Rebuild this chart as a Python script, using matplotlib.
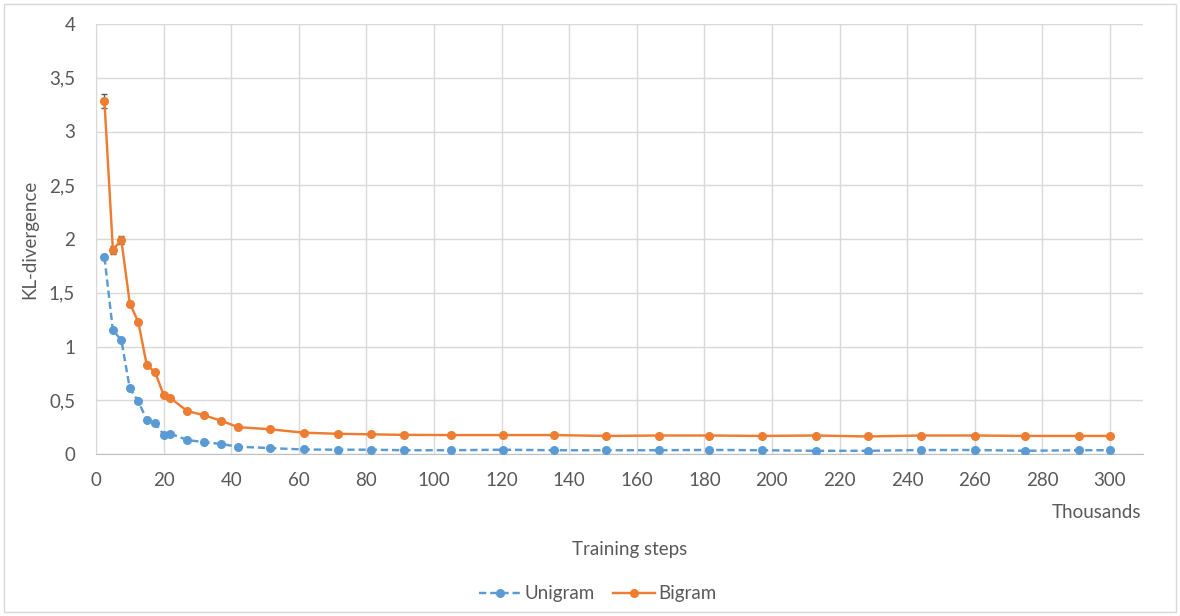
import numpy as np
import matplotlib
matplotlib.use("Agg")
import matplotlib.pyplot as plt
from matplotlib.patches import Rectangle
from matplotlib.ticker import FuncFormatter

plt.rcParams['font.family'] = ['Lato', 'DejaVu Sans']

# training steps (thousands)
steps = [2.5, 5, 7.5, 10, 12.5, 15, 17.5, 20, 22, 27, 32, 37, 42, 51.5,
         61.5, 71.5, 81.5, 91, 105, 120.5, 135.5, 151,
         166.5, 181.5, 197, 213, 228.5, 244, 260, 275, 291, 300]

unigram = [1.83, 1.15, 1.06, 0.61, 0.49, 0.32, 0.29, 0.18, 0.19, 0.13, 0.11, 0.093, 0.068, 0.055,
           0.042, 0.040, 0.040, 0.035, 0.035, 0.040, 0.035, 0.035,
           0.035, 0.038, 0.035, 0.030, 0.030, 0.037, 0.037, 0.030, 0.035, 0.035]
unigram_err = [0.02, 0.01, 0.01, 0.01, 0.005, 0.005, 0.005, 0.005, 0.005, 0.003, 0.003, 0.003, 0.003, 0.002,
               0.002, 0.002, 0.002, 0.002, 0.002, 0.002, 0.002, 0.002,
               0.002, 0.002, 0.002, 0.002, 0.002, 0.002, 0.002, 0.002, 0.002, 0.002]

bigram = [3.28, 1.90, 1.99, 1.40, 1.23, 0.83, 0.76, 0.55, 0.52, 0.40, 0.36, 0.31, 0.25, 0.23,
          0.198, 0.188, 0.183, 0.178, 0.176, 0.176, 0.176, 0.168,
          0.172, 0.172, 0.168, 0.172, 0.163, 0.172, 0.172, 0.168, 0.168, 0.168]
bigram_err = [0.065, 0.035, 0.035, 0.025, 0.015, 0.01, 0.01, 0.01, 0.008, 0.005, 0.005, 0.005, 0.005, 0.004,
              0.003, 0.003, 0.003, 0.003, 0.003, 0.003, 0.003, 0.003,
              0.003, 0.003, 0.003, 0.003, 0.003, 0.003, 0.003, 0.003, 0.003, 0.003]

blue = '#5B9BD5'
orange = '#ED7D31'
text_gray = '#595959'
fs = 13.5

fig = plt.figure(figsize=(11.8, 6.16), dpi=100)
ax = fig.add_axes([96/1180, 1 - 454/616, (1143 - 96)/1180, (454 - 24)/616])

ax.errorbar(steps, unigram, yerr=unigram_err, color=blue, ecolor='#595959', elinewidth=1,
            capsize=2.5, capthick=1, linestyle=(0, (3, 1.6)), linewidth=1.75,
            marker='o', markersize=5.5, label='Unigram', zorder=3)
ax.errorbar(steps, bigram, yerr=bigram_err, color=orange, ecolor='#595959', elinewidth=1,
            capsize=2.5, capthick=1, linestyle='-', linewidth=1.75,
            marker='o', markersize=5.5, label='Bigram', zorder=4)

ax.set_xlim(0, 309.8)
ax.set_ylim(0, 4)
ax.set_xticks(np.arange(0, 301, 20))
ax.set_yticks(np.arange(0, 4.01, 0.5))
ax.yaxis.set_major_formatter(FuncFormatter(lambda v, p: f"{v:g}".replace('.', ',')))
ax.grid(True, color='#d9d9d9', linewidth=1)
ax.set_axisbelow(True)
ax.tick_params(length=0, labelsize=fs, labelcolor=text_gray)
ax.tick_params(axis='x', pad=13)
ax.tick_params(axis='y', pad=15)
for s in ['top', 'right']:
    ax.spines[s].set_visible(False)
ax.spines['left'].set_color('#d9d9d9')
ax.spines['bottom'].set_color('#bfbfbf')

ax.set_ylabel('KL-divergence', fontsize=fs, color=text_gray, labelpad=8)
fig.text(1141/1180, 1 - 512/616, 'Thousands', ha='right', va='center', fontsize=fs, color=text_gray)
fig.text(630/1180, 1 - 549/616, 'Training steps', ha='center', va='center', fontsize=fs, color=text_gray)

handles, labels = ax.get_legend_handles_labels()
handles = [h[0] for h in handles]
fig.legend(handles, labels, loc='center', bbox_to_anchor=(598/1180, 1 - 594/616), ncol=2,
           frameon=False, fontsize=fs, labelcolor=text_gray, handlelength=2.2,
           handletextpad=0.2, columnspacing=1.0)

fig.patches.append(Rectangle((4/1180, 4/616), 1172/1180, 608/616, transform=fig.transFigure,
                             fill=False, edgecolor='#d9d9d9', linewidth=1))

fig.savefig('out.png', dpi=100)
